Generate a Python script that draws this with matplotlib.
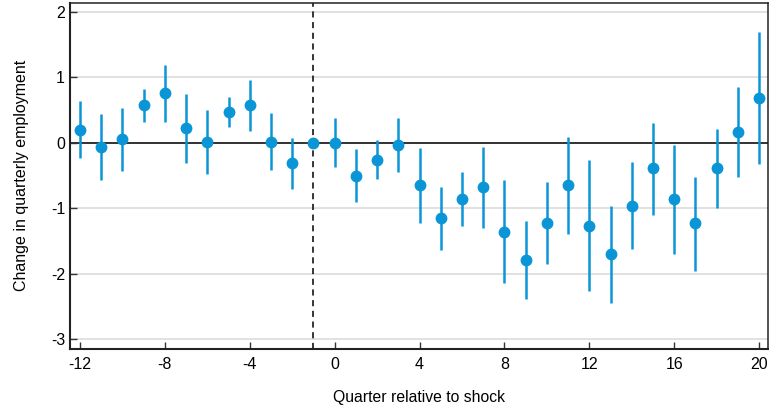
import numpy as np
import matplotlib.pyplot as plt

plt.rcParams['font.family'] = ['Liberation Sans', 'DejaVu Sans']
plt.rcParams['axes.unicode_minus'] = False

# quarter relative to shock
quarters = list(range(-12, 21))

# point estimates
estimate = [0.20, -0.06, 0.06, 0.58, 0.76, 0.22, 0.02, 0.47, 0.58, 0.02, -0.31, 0.00,
            0.00, -0.50, -0.26, -0.04, -0.65, -1.15, -0.86, -0.68, -1.36, -1.79,
            -1.22, -0.65, -1.27, -1.70, -0.96, -0.39, -0.86, -1.23, -0.39, 0.17, 0.68]

# confidence interval bounds (NaN = reference quarter, no interval)
upper = [0.64, 0.44, 0.53, 0.83, 1.19, 0.74, 0.50, 0.70, 0.96, 0.45, 0.08, np.nan,
         0.38, -0.10, 0.04, 0.38, -0.08, -0.67, -0.44, -0.06, -0.57, -1.20,
         -0.60, 0.09, -0.27, -0.97, -0.30, 0.31, -0.03, -0.52, 0.21, 0.86, 1.69]
lower = [-0.23, -0.57, -0.43, 0.32, 0.32, -0.31, -0.47, 0.24, 0.18, -0.41, -0.70, np.nan,
         -0.37, -0.91, -0.56, -0.44, -1.22, -1.64, -1.27, -1.30, -2.15, -2.39,
         -1.85, -1.39, -2.27, -2.45, -1.63, -1.10, -1.70, -1.96, -0.99, -0.52, -0.33]

x_ticks = [-12, -8, -4, 0, 4, 8, 12, 16, 20]
y_ticks = [-3, -2, -1, 0, 1, 2]

blue = '#0a96d6'

fig = plt.figure(figsize=(7.69, 4.09), dpi=100)
ax = fig.add_axes([0.091, 0.147, 0.9077, 0.846])

for y in y_ticks:
    if y != 0:
        ax.axhline(y, color='#dcdcdc', lw=1.2, zorder=0)
ax.axhline(0, color='#222222', lw=1.3, zorder=1)
ax.axvline(-1, color='black', lw=1.1, ls=(0, (4, 3)), zorder=1)

ax.vlines(quarters, lower, upper, color=blue, lw=1.8, zorder=2)
ax.plot(quarters, estimate, 'o', color=blue, ms=7.5, zorder=3)

ax.set_xlim(-12.47, 20.42)
ax.set_ylim(-3.15, 2.14)
ax.set_xticks(x_ticks)
ax.set_xticklabels([str(t) for t in x_ticks])
ax.set_yticks(y_ticks)
ax.set_yticklabels([str(t) for t in y_ticks])
ax.tick_params(direction='in', length=5, width=1, labelsize=11.5, color='#333333')
ax.tick_params(axis='x', pad=6)
for s in ax.spines.values():
    s.set_color('#222222')
    s.set_linewidth(1.1)
ax.spines['left'].set_linewidth(1.5)
ax.spines['bottom'].set_linewidth(1.5)

ax.set_xlabel('Quarter relative to shock', fontsize=11.3, labelpad=13)
ax.set_ylabel('Change in quarterly employment', fontsize=11.5, labelpad=16)

fig.savefig('out.png', dpi=100)
